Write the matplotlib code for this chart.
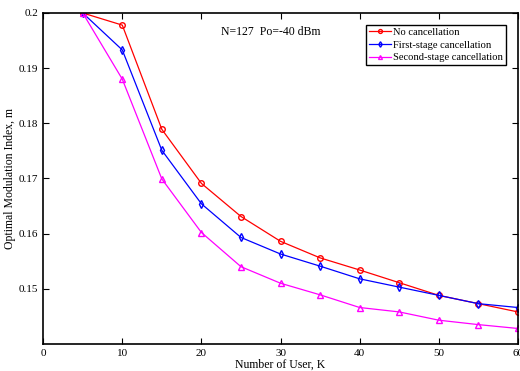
import numpy as np
import matplotlib.pyplot as plt

plt.rcParams['font.family'] = ['Liberation Serif', 'DejaVu Serif']

users = [5, 10, 15, 20, 25, 30, 35, 40, 45, 50, 55, 60]
no_cancel = [0.2, 0.1978, 0.1789, 0.1691, 0.1631, 0.1586, 0.1556, 0.1534, 0.1511, 0.1488, 0.1473, 0.1458]
first_stage = [0.2, 0.1933, 0.1751, 0.1654, 0.1593, 0.1563, 0.1541, 0.1518, 0.1503, 0.1488, 0.1473, 0.1466]
second_stage = [0.2, 0.1880, 0.1699, 0.1602, 0.1540, 0.1510, 0.1489, 0.1466, 0.1458, 0.1443, 0.1435, 0.1428]

fig = plt.figure(figsize=(5.2, 3.71), dpi=100)
ax = fig.add_axes([0.083, 0.073, 0.913, 0.892])

ax.plot(users, no_cancel, 'o-', color='red', mfc='none', ms=4, lw=0.9, label='No cancellation')
ax.plot(users, first_stage, 'd-', color='blue', mfc='none', ms=4, lw=0.9, label='First-stage cancellation')
ax.plot(users, second_stage, '^-', color='magenta', mfc='none', ms=4, lw=0.9, label='Second-stage cancellation')

ax.set_xlim(0, 60)
ax.set_ylim(0.14, 0.2)
ax.set_xticks([0, 10, 20, 30, 40, 50, 60])
ax.set_yticks([0.15, 0.16, 0.17, 0.18, 0.19, 0.2])
ax.set_yticklabels(['0.15', '0.16', '0.17', '0.18', '0.19', '0.2'])
ax.tick_params(direction='in', top=True, right=True, labelsize=8, length=4, width=0.8)
for s in ax.spines.values():
    s.set_linewidth(1.2)

ax.set_xlabel('Number of User, K', fontsize=8.5, labelpad=1)
ax.set_ylabel('Optimal Modulation Index, m', fontsize=8.5, labelpad=2)
ax.text(28.8, 0.1966, 'N=127  Po=-40 dBm', fontsize=8.5, ha='center', va='center')

leg = ax.legend(loc='upper right', fontsize=7.6, fancybox=False, framealpha=1,
                edgecolor='black', handlelength=2.1, borderpad=0.3, labelspacing=0.3,
                handletextpad=0.2, borderaxespad=1.1, markerscale=0.7)
leg.get_frame().set_linewidth(1.0)

fig.savefig('out.png', dpi=100)
